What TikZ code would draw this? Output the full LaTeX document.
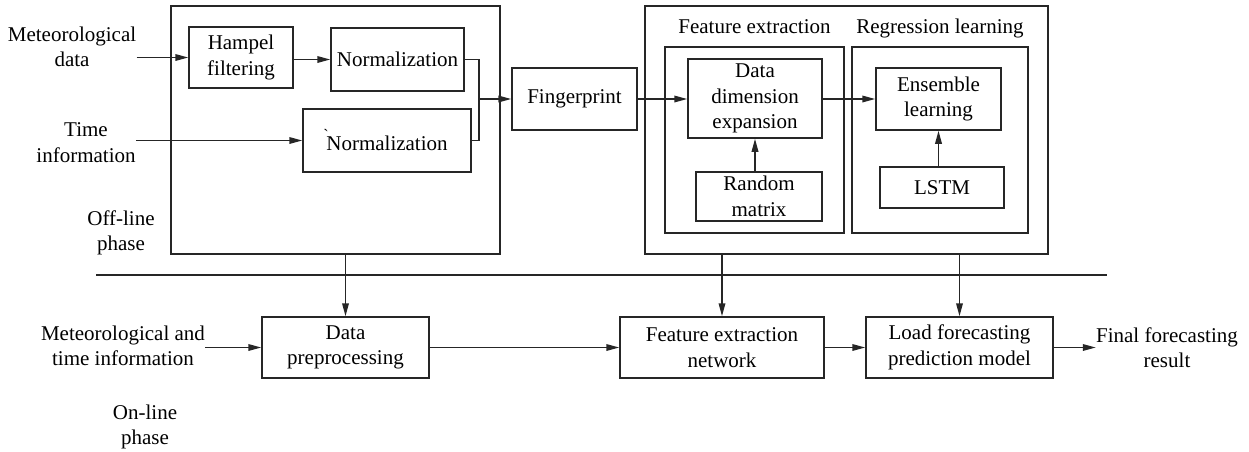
\documentclass[tikz,border=0pt]{standalone}
\usepackage{fontspec}
\setmainfont{Liberation Serif}
% plain family without TeX ligatures, so ` stays a grave mark
\newfontfamily\rawserif{Liberation Serif}
\usetikzlibrary{arrows.meta}
\begin{document}
\begin{tikzpicture}[x=0.5pt,y=-0.5pt,
  every node/.style={font=\fontsize{10.5}{12.75}\selectfont, text=black},
  blk/.style={draw=black!85, line width=0.75pt, inner sep=0pt, align=center},
  % box given by its left, top, right and bottom edges
  span/.style n args={4}{at={({(#1+#3)/2},{(#2+#4)/2})},
    minimum width={(#3-#1)*0.5pt}, minimum height={(#4-#2)*0.5pt}},
  lbl/.style={inner sep=0pt, align=center},
  conn/.style={draw=black!85, line width=0.75pt},
  arr/.style={conn, -{Triangle[length=6.5pt,width=3.3pt]}},
]
\useasboundingbox (0,0) rectangle (1249,451);

% ---- off-line phase: preprocessing block ----
\node[blk, span={171}{6}{500}{254}] (off) {};
\node[blk, span={189}{27}{293}{88}] (hampel) {Hampel\\filtering};
\node[blk, span={331}{28}{464}{91}] (norm1) {Normalization};
\node[blk, span={303}{109}{471}{172}] (norm2) {\rlap{\kern-1.5pt\raisebox{5pt}{\rawserif\fontsize{8}{8}\selectfont`}}Normalization};
\node[blk, span={512}{68}{637}{130}] (fing) {Fingerprint};

% ---- off-line phase: learning block ----
\node[blk, span={645}{6}{1048}{254}] (learn) {};
\node[blk, span={665}{47}{844}{233}] (fe) {};
\node[blk, span={852}{47}{1028}{233}] (rl) {};
\node[lbl, anchor=base] (felbl) at (754.5,33) {Feature extraction};
\node[lbl, anchor=base] (rllbl) at (940,33) {Regression learning};
\node[blk, span={688}{59}{822}{138}] (dde) {Data\\dimension\\expansion};
\node[blk, span={696}{172}{822}{221}] (rm) {Random\\matrix};
\node[blk, span={876}{68}{1001}{130}] (ens) {Ensemble\\learning};
\node[blk, span={880}{167}{1004}{208}] (lstm) {LSTM};

% ---- on-line phase ----
\node[blk, span={262}{317}{429}{378}] (dp) {Data\\preprocessing};
\node[blk, span={620}{317}{824}{378}] (fen) {Feature extraction\\network};
\node[blk, span={866}{317}{1053}{378}] (lfpm) {Load forecasting\\prediction model};

% ---- free labels ----
\node[lbl] (metin) at (72,46.6) {Meteorological\\data};
\node[lbl] (timein) at (86,142.6) {Time\\information};
\node[lbl] (offl) at (121,233) {Off-line\\phase};
\node[lbl] (mti) at (123,345.6) {Meteorological and\\time information};
\node[lbl] (onl) at (145,427) {On-line\\phase};
\node[lbl] (fin) at (1167,347.6) {Final forecasting\\result};

% ---- connectors ----
\draw[arr] (metin.east |- hampel.west) -- (hampel.west);
\draw[arr] (timein.east |- norm2.west) -- (norm2.west);
\draw[arr] (hampel.east |- norm1.west) -- (norm1.west);
\coordinate (mg) at (479,99);
\draw[conn] (norm1.east) -| (mg) |- (norm2.east);
\draw[arr] (mg) -- (mg -| fing.west);
\draw[arr] (fing.east) -- (fing.east -| dde.west);
\draw[arr] (dde.east |- ens.west) -- (ens.west);
\draw[arr] (dde.south |- rm.north) -- (dde.south);
\draw[arr] (ens.south |- lstm.north) -- (ens.south);

\coordinate (sepL) at (96,275);
\coordinate (sepR) at (1107,275);
\draw[conn] (sepL) -- (sepR);

\draw[arr] (dp.north |- off.south) -- (dp.north);
\draw[arr] (fen.north |- learn.south) -- (fen.north);
\draw[arr] (lfpm.north |- learn.south) -- (lfpm.north);
\draw[arr] (mti.east |- dp.west) -- (dp.west);
\draw[arr] (dp.east) -- (fen.west);
\draw[arr] (fen.east) -- (lfpm.west);
\draw[arr] (lfpm.east) -- (lfpm.east -| fin.west);
\end{tikzpicture}
\end{document}
